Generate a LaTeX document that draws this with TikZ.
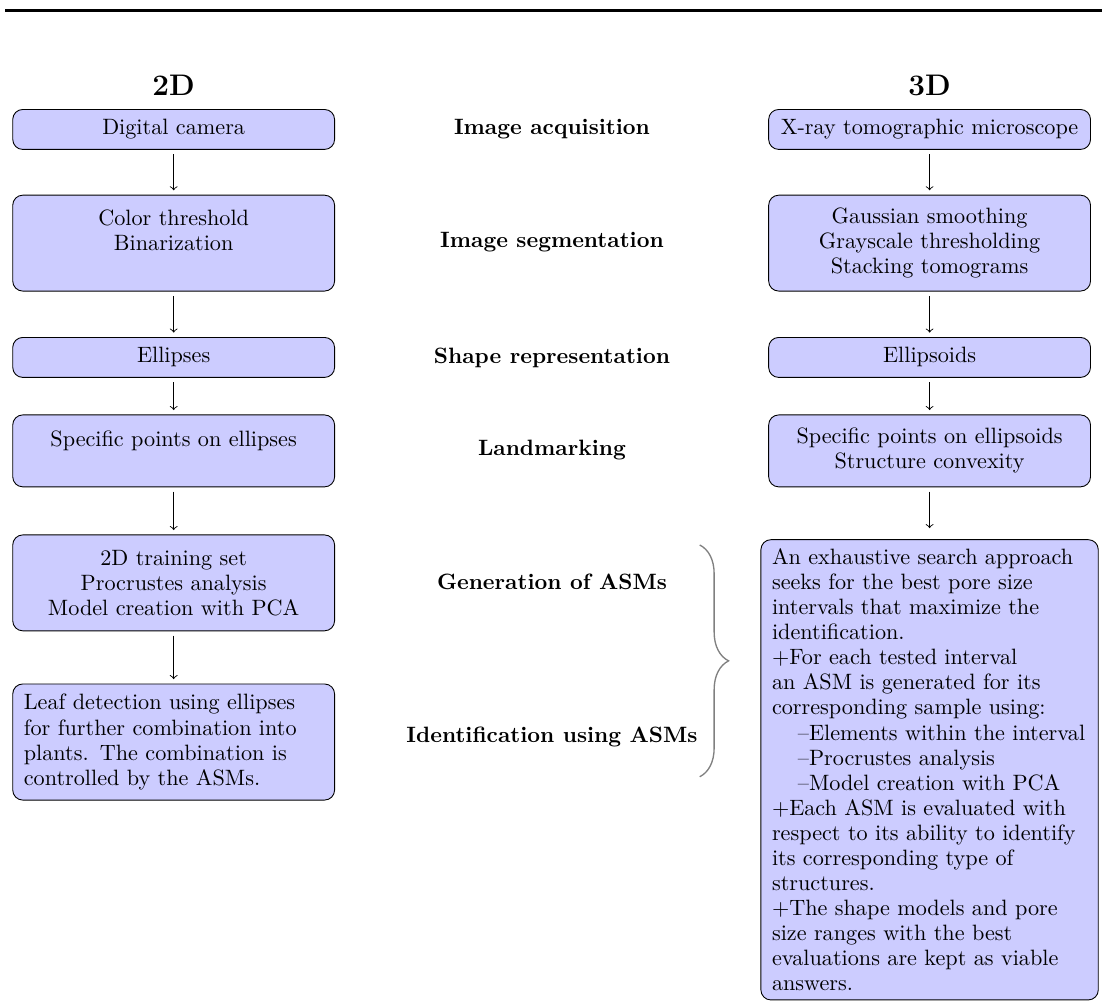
\documentclass[tikz,border=0pt]{standalone}
\usetikzlibrary{decorations.pathreplacing}
\tikzset{
	boite/.style={draw, fill=blue!20, rounded corners=4.5pt, inner xsep=5pt, inner ysep=4pt, text width=135pt, align=center, font=\fontsize{10pt}{11.3pt}\selectfont},
	etiquette/.style={font=\fontsize{10pt}{11.3pt}\selectfont\bfseries},
	titre/.style={font=\fontsize{13.4pt}{16pt}\selectfont\bfseries, anchor=base},
	fleche/.style={->, shorten <=2pt, shorten >=2pt},
	accolade/.style={gray, semithick, decorate, decoration={brace, amplitude=13pt}}
}
\begin{document}
\begin{tikzpicture}
	\useasboundingbox (0,0) rectangle (17.45,15.85);
	\draw[line width=1.35pt] (0.08,15.69) -- (17.45,15.69);

	\node[titre] (titre2d) at (2.75,14.34) {2D};
	\node[titre] (titre3d) at (14.72,14.34) {3D};

	\node[boite, minimum height=18pt] (cam) at (2.75,13.80) {Digital camera};
	\node[boite, minimum height=43.2pt] (seuil) at (2.75,12.00) {Color threshold\\Binarization\\\mbox{}};
	\node[boite, minimum height=18pt] (ell) at (2.75,10.19) {Ellipses};
	\node[boite, minimum height=32.4pt] (pts) at (2.75,8.71) {Specific points on ellipses\\\mbox{}};
	\node[boite, minimum height=43.2pt] (asm) at (2.75,6.62) {2D training set\\Procrustes analysis\\Model creation with PCA};
	\node[boite, minimum height=52.3pt, align=left] (feuille) at (2.75,4.10) {Leaf detection using ellipses\\for further combination into\\plants. The combination is\\controlled by the ASMs.};

	\node[etiquette] (acq) at (8.74,13.81) {Image acquisition};
	\node[etiquette] (seg) at (8.74,12.01) {Image segmentation};
	\node[etiquette] (rep) at (8.74,10.19) {Shape representation};
	\node[etiquette] (land) at (8.74,8.73) {Landmarking};
	\node[etiquette] (gen) at (8.74,6.64) {Generation of ASMs};
	\node[etiquette] (ident) at (8.74,4.18) {Identification using ASMs};

	\node[boite, minimum height=18pt] (micro) at (14.72,13.80) {X-ray tomographic microscope};
	\node[boite, minimum height=43.2pt] (gauss) at (14.72,12.00) {Gaussian smoothing\\Grayscale thresholding\\Stacking tomograms};
	\node[boite, minimum height=18pt] (ellsoid) at (14.72,10.19) {Ellipsoids};
	\node[boite, minimum height=32.4pt] (ptsoid) at (14.72,8.71) {Specific points on ellipsoids\\Structure convexity};
	\node[boite, minimum height=207pt, text width=142pt, align=left] (recherche) at (14.72,3.66) {An exhaustive search approach\\
		seeks for the best pore size\\
		intervals that maximize the\\
		identification.\\
		+For each tested interval\\
		an ASM is generated for its\\
		corresponding sample using:\\
		\hspace*{11.7pt}--Elements within the interval\\
		\hspace*{11.7pt}--Procrustes analysis\\
		\hspace*{11.7pt}--Model creation with PCA\\
		+Each ASM is evaluated with\\
		respect to its ability to identify\\
		its corresponding type of\\
		structures.\\
		+The shape models and pore\\
		size ranges with the best\\
		evaluations are kept as viable\\
		answers.};

	\draw[fleche] (cam) -- (seuil);
	\draw[fleche] (seuil) -- (ell);
	\draw[fleche] (ell) -- (pts);
	\draw[fleche] (pts) -- (asm);
	\draw[fleche] (asm) -- (feuille);

	\draw[fleche] (micro) -- (gauss);
	\draw[fleche] (gauss) -- (ellsoid);
	\draw[fleche] (ellsoid) -- (ptsoid);
	\draw[fleche, shorten >=5pt] (ptsoid) -- (recherche);

	\coordinate (acchaut) at (11.08,7.22);
	\coordinate (accbas) at (11.08,3.55);
	\draw[accolade] (acchaut) -- (accbas);
\end{tikzpicture}
\end{document}
